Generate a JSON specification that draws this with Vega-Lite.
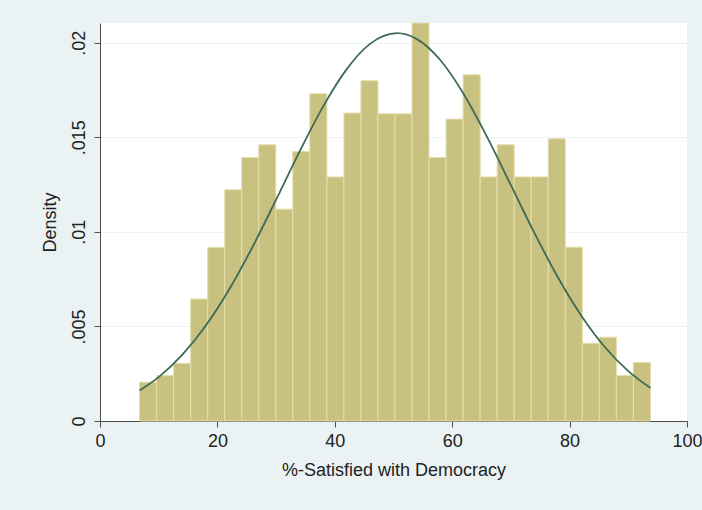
{
  "$schema": "https://vega.github.io/schema/vega-lite/v6.json",
  "autosize": {"type": "none"},
  "width": 587,
  "height": 398,
  "padding": {"left": 100, "top": 23, "right": 15, "bottom": 89},
  "background": "#EAF2F3",
  "config": {
    "view": {"fill": "white", "stroke": null},
    "font": "Liberation Sans",
    "axis": {
      "labelFont": "Liberation Sans",
      "titleFont": "Liberation Sans",
      "labelFontSize": 18,
      "titleFontSize": 18,
      "titleFontWeight": "normal",
      "labelColor": "#222222",
      "titleColor": "#222222",
      "domainColor": "#4d4d4d",
      "tickColor": "#4d4d4d",
      "tickSize": 6,
      "domainWidth": 1,
      "tickWidth": 1,
      "labelFlush": false,
      "labelOverlap": false
    }
  },
  "datasets": {
    "bars": [
      {"x0": 6.74, "x1": 9.641, "density": 0.00205},
      {"x0": 9.641, "x1": 12.542, "density": 0.0024},
      {"x0": 12.542, "x1": 15.443, "density": 0.00305},
      {"x0": 15.443, "x1": 18.344, "density": 0.00645},
      {"x0": 18.344, "x1": 21.245, "density": 0.00918},
      {"x0": 21.245, "x1": 24.146, "density": 0.01222},
      {"x0": 24.146, "x1": 27.047, "density": 0.01393},
      {"x0": 27.047, "x1": 29.948, "density": 0.0146},
      {"x0": 29.948, "x1": 32.849, "density": 0.0112},
      {"x0": 32.849, "x1": 35.75, "density": 0.01425},
      {"x0": 35.75, "x1": 38.651, "density": 0.0173},
      {"x0": 38.651, "x1": 41.552, "density": 0.0129},
      {"x0": 41.552, "x1": 44.453, "density": 0.01628},
      {"x0": 44.453, "x1": 47.354, "density": 0.01799},
      {"x0": 47.354, "x1": 50.255, "density": 0.01624},
      {"x0": 50.255, "x1": 53.156, "density": 0.01624},
      {"x0": 53.156, "x1": 56.057, "density": 0.02104},
      {"x0": 56.057, "x1": 58.958, "density": 0.01393},
      {"x0": 58.958, "x1": 61.859, "density": 0.01596},
      {"x0": 61.859, "x1": 64.76, "density": 0.0183},
      {"x0": 64.76, "x1": 67.661, "density": 0.0129},
      {"x0": 67.661, "x1": 70.562, "density": 0.0146},
      {"x0": 70.562, "x1": 73.463, "density": 0.0129},
      {"x0": 73.463, "x1": 76.364, "density": 0.0129},
      {"x0": 76.364, "x1": 79.265, "density": 0.01492},
      {"x0": 79.265, "x1": 82.166, "density": 0.00919},
      {"x0": 82.166, "x1": 85.067, "density": 0.00411},
      {"x0": 85.067, "x1": 87.968, "density": 0.00443},
      {"x0": 87.968, "x1": 90.869, "density": 0.0024},
      {"x0": 90.869, "x1": 93.77, "density": 0.00309}
    ],
    "curve": [
      {"x": 6.74, "d": 0.001613},
      {"x": 10, "d": 0.002321},
      {"x": 14, "d": 0.003491},
      {"x": 18, "d": 0.005032},
      {"x": 22, "d": 0.006954},
      {"x": 26, "d": 0.009212},
      {"x": 30, "d": 0.0117},
      {"x": 34, "d": 0.014242},
      {"x": 38, "d": 0.01662},
      {"x": 42, "d": 0.01859},
      {"x": 46, "d": 0.019935},
      {"x": 50.6, "d": 0.0205},
      {"x": 54, "d": 0.020189},
      {"x": 58, "d": 0.019069},
      {"x": 62, "d": 0.017264},
      {"x": 66, "d": 0.014984},
      {"x": 70, "d": 0.012466},
      {"x": 74, "d": 0.009942},
      {"x": 78, "d": 0.0076},
      {"x": 82, "d": 0.00557},
      {"x": 86, "d": 0.003913},
      {"x": 90, "d": 0.002635},
      {"x": 93.77, "d": 0.001746}
    ]
  },
  "layer": [
    {
      "data": {"name": "bars"},
      "mark": {"type": "bar", "fill": "#C9C17F", "stroke": "#E4DEAA", "strokeWidth": 1},
      "encoding": {
        "x": {
          "field": "x0", "type": "quantitative",
          "scale": {"domain": [0, 100], "nice": false, "zero": false},
          "axis": {
            "values": [0, 20, 40, 60, 80, 100],
            "grid": false,
            "title": "%-Satisfied with Democracy",
            "labelPadding": 5,
            "titlePadding": 11
          }
        },
        "x2": {"field": "x1"},
        "y": {
          "field": "density", "type": "quantitative",
          "scale": {"domain": [0, 0.02104], "nice": false},
          "axis": {
            "values": [0, 0.005, 0.01, 0.015, 0.02],
            "labelExpr": "datum.value == 0 ? '0' : replace(format(datum.value, '~g'), '0.', '.')",
            "labelAngle": -90,
            "labelAlign": "center",
            "labelBaseline": "bottom",
            "labelPadding": 6,
            "grid": true,
            "gridColor": "#EAF2F3",
            "gridWidth": 1,
            "title": "Density",
            "titlePadding": 11
          }
        },
        "y2": {"datum": 0}
      }
    },
    {
      "data": {"name": "curve"},
      "mark": {"type": "line", "color": "#3D6B58", "strokeWidth": 1.8, "interpolate": "monotone"},
      "encoding": {
        "x": {"field": "x", "type": "quantitative"},
        "y": {"field": "d", "type": "quantitative"}
      }
    }
  ]
}
